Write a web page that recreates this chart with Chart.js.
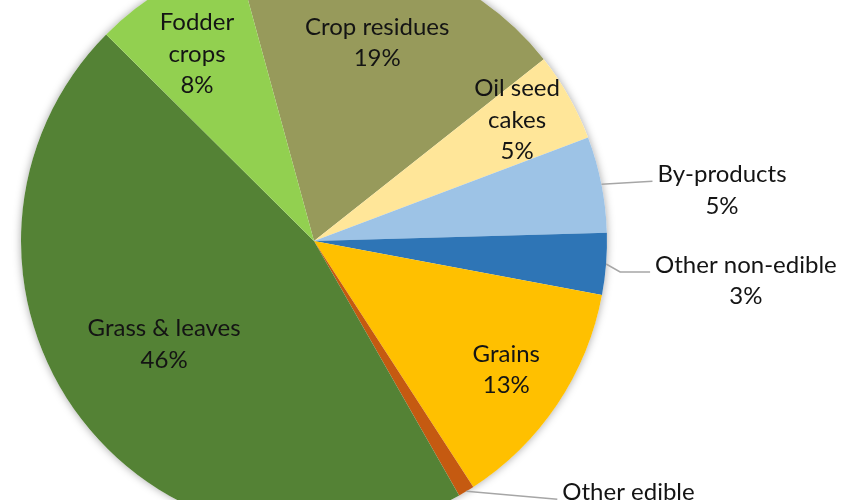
<!DOCTYPE html>
<html><head><meta charset="utf-8">
<script src="https://cdn.jsdelivr.net/npm/chart.js@4.4.1/dist/chart.umd.min.js"></script>
<style>
html,body{margin:0;padding:0;background:#fff;overflow:hidden;width:860px;height:500px;}
#wrap{position:absolute;left:0;top:-60px;width:860px;height:602px;}
</style></head><body>
<div id="wrap"><canvas id="c" width="860" height="602"></canvas></div>
<script>
const categories = ['Crop residues','Oil seed cakes','By-products','Other non-edible','Grains','Other edible','Grass & leaves','Fodder crops'];
const shares = [18.6, 4.9, 5.3, 3.4, 12.9, 0.9, 45.7, 8.3];
const labelLines = [['Crop residues'],['Oil seed','cakes'],['By-products'],['Other non-edible'],['Grains'],['Other edible'],['Grass & leaves'],['Fodder','crops']];
const colors = ['#979A5B','#FFE699','#9DC3E6','#2E75B6','#FFC000','#C55A11','#548235','#92D050'];

// label layout: inside labels at a radial fraction (+ small angular nudge, degrees); outside labels with leader lines
const labelLayout = [
  {inside:0.71, da:-0.5},
  {inside:0.807, da:-1.3},
  {outside:true, dx:51, dy:-3, h:0},
  {outside:true, dx:44, dy:8, h:30},
  {inside:0.79, da:0},
  {outside:true, dx:91, dy:8, h:0},
  {inside:0.621, da:2.9},
  {inside:0.753, da:-1.8}
];

const FONT = '24px Lato, "Open Sans", sans-serif';
const TEXT_COLOR = '#141414';
const LINE_H = 31.5;

const total = shares.reduce((a,b)=>a+b,0);

const shadowPlugin = {
  id:'shadow',
  beforeDatasetsDraw(chart){
    const arc = chart.getDatasetMeta(0).data[0];
    if(!arc) return;
    const ctx = chart.ctx;
    ctx.save();
    ctx.beginPath();
    ctx.arc(arc.x, arc.y, arc.outerRadius, 0, Math.PI*2);
    ctx.shadowColor = 'rgba(0,0,0,0.35)';
    ctx.shadowBlur = 9;
    ctx.fillStyle = '#ffffff';
    ctx.fill();
    ctx.restore();
  }
};

const labelPlugin = {
  id:'labels',
  afterDatasetsDraw(chart){
    const ctx = chart.ctx;
    const meta = chart.getDatasetMeta(0);
    ctx.save();
    ctx.font = FONT;
    ctx.fillStyle = TEXT_COLOR;
    ctx.textAlign = 'center';
    ctx.textBaseline = 'middle';
    meta.data.forEach((arc, i) => {
      const mid = (arc.startAngle + arc.endAngle)/2;
      const lines = labelLines[i].concat([Math.round(shares[i]/total*100) + '%']);
      const lay = labelLayout[i];
      if (lay.inside) {
        const a = mid + (lay.da||0)*Math.PI/180;
        const r = arc.outerRadius * lay.inside;
        const cx = arc.x + Math.cos(a)*r;
        const cy = arc.y + Math.sin(a)*r;
        const y0 = cy - (lines.length-1)*LINE_H/2;
        lines.forEach((t,k)=>ctx.fillText(t, cx, y0 + k*LINE_H));
      } else {
        const ax = arc.x + Math.cos(mid)*arc.outerRadius;
        const ay = arc.y + Math.sin(mid)*arc.outerRadius;
        const ex = ax + lay.dx, ey = ay + lay.dy;
        ctx.save();
        ctx.strokeStyle = '#a6a6a6';
        ctx.lineWidth = 1.5;
        ctx.beginPath();
        ctx.moveTo(ax, ay);
        ctx.lineTo(ex - lay.h, ey);
        ctx.lineTo(ex, ey);
        ctx.stroke();
        ctx.restore();
        const w = Math.max(...lines.map(t=>ctx.measureText(t).width));
        const cx = ex + 5 + w/2;
        const y0 = ey - 7;
        lines.forEach((t,k)=>ctx.fillText(t, cx, y0 + k*LINE_H));
      }
    });
    ctx.restore();
  }
};

new Chart(document.getElementById('c'), {
  type:'pie',
  data:{ labels:categories, datasets:[{ data:shares, backgroundColor:colors, borderWidth:0 }] },
  options:{
    responsive:false,
    animation:false,
    rotation:-15.3,
    layout:{ padding:{ left:21, right:253, top:8, bottom:8 } },
    plugins:{ legend:{display:false}, tooltip:{enabled:false} }
  },
  plugins:[shadowPlugin, labelPlugin]
});
</script>
</body></html>
